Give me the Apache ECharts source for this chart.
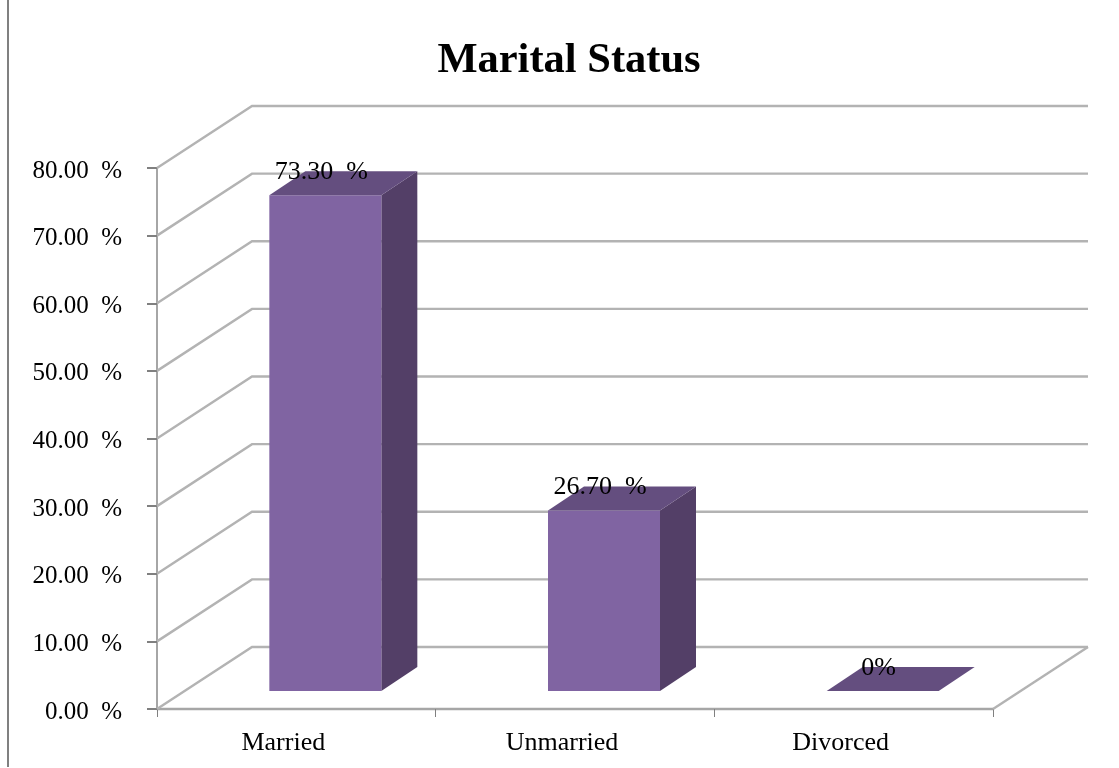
<!DOCTYPE html>
<html>
<head>
<meta charset="utf-8">
<style>html,body{margin:0;padding:0;background:#fff}#c{width:1119px;height:768px}</style>
<script src="https://cdn.jsdelivr.net/npm/echarts@6/dist/echarts.min.js"></script>
</head>
<body>
<div id="c"></div>
<script>
var titleText = 'Marital Status';
var categories = ['Married', 'Unmarried', 'Divorced'];
var values = [73.3, 26.7, 0];
var valueLabels = ['73.30  %', '26.70  %', '0%'];
var yTicks = [0, 10, 20, 30, 40, 50, 60, 70, 80];

var FONT = '"Liberation Serif","Times New Roman",serif';
var GRID = '#b3b3b3', AXIS = '#a6a6a6';
var WALL_DX = 95, WALL_DY = -62;
var BAR_DX = 29, BAR_DY = -18, BAR_W = 112, DEPTH_DX = 36, DEPTH_DY = -24;

var chart = echarts.init(document.getElementById('c'), null, {renderer: 'canvas'});

function wallItem(params, api) {
  var p = api.coord([0, api.value(0)]);
  var cs = params.coordSys;
  var x0 = cs.x, x1 = cs.x + cs.width, y = p[1];
  var children = [{
    type: 'polyline',
    shape: {points: [[x0, y], [x0 + WALL_DX, y + WALL_DY], [x1 + WALL_DX, y + WALL_DY]]},
    style: {stroke: GRID, lineWidth: 2.4, fill: null}
  }];
  if (api.value(0) === 0) {
    children.push({
      type: 'line',
      shape: {x1: x1, y1: y, x2: x1 + WALL_DX, y2: y + WALL_DY},
      style: {stroke: GRID, lineWidth: 2.4}
    });
  }
  return {type: 'group', children: children};
}

function barItem(params, api) {
  var base = api.coord([api.value(0), 0]);
  var top = api.coord([api.value(0), api.value(1)]);
  var l = base[0] - BAR_W / 2 + BAR_DX, r = l + BAR_W;
  var by = base[1] + BAR_DY, ty = top[1] + BAR_DY;
  var children = [];
  if (by - ty > 0) {
    children.push({
      type: 'polygon',
      shape: {points: [[r, ty], [r + DEPTH_DX, ty + DEPTH_DY], [r + DEPTH_DX, by + DEPTH_DY], [r, by]]},
      style: {fill: '#533f67'}
    });
    children.push({
      type: 'rect',
      shape: {x: l, y: ty, width: BAR_W, height: by - ty},
      style: {fill: '#8064a2'}
    });
  }
  children.push({
    type: 'polygon',
    shape: {points: [[l, ty], [l + DEPTH_DX, ty + DEPTH_DY], [r + DEPTH_DX, ty + DEPTH_DY], [r, ty]]},
    style: {fill: '#644e7f'}
  });
  children.push({
    type: 'text',
    style: {
      x: (l + r) / 2 - 4, y: ty + DEPTH_DY + 1,
      text: valueLabels[params.dataIndex],
      font: '26px ' + FONT, fill: '#000',
      align: 'center', verticalAlign: 'middle'
    }
  });
  return {type: 'group', children: children};
}

chart.setOption({
  animation: false,
  backgroundColor: '#fff',
  title: {
    text: titleText, left: 564, top: 35, textAlign: 'center',
    textStyle: {fontFamily: FONT, fontSize: 42.5, fontWeight: 'bold', color: '#000'}
  },
  grid: {left: 157, right: 126, top: 168, bottom: 59, containLabel: false},
  xAxis: {
    type: 'category', data: categories, boundaryGap: true,
    axisLine: {show: true, lineStyle: {color: AXIS, width: 2.4}},
    axisTick: {show: true, length: 8, alignWithLabel: false, lineStyle: {color: '#808080', width: 1}},
    axisLabel: {fontFamily: FONT, fontSize: 26, color: '#000', margin: 21, interval: 0, padding: [0, 26, 0, 0]},
    splitLine: {show: false}
  },
  yAxis: {
    type: 'value', min: 0, max: 80, interval: 10,
    axisLine: {show: true, lineStyle: {color: AXIS, width: 2}},
    axisTick: {show: true, length: 10, lineStyle: {color: '#808080', width: 2}},
    axisLabel: {
      fontFamily: FONT, fontSize: 25, color: '#000', margin: 35,
      verticalAlign: 'top', lineHeight: 6,
      formatter: function (v) { return v.toFixed(2) + '  %'; }
    },
    splitLine: {show: false}
  },
  graphic: [{
    type: 'line', z: 10,
    shape: {x1: 8, y1: 0, x2: 8, y2: 767},
    style: {stroke: '#808080', lineWidth: 2}
  }],
  series: [{
    type: 'custom', name: 'walls', silent: true, clip: false, z: 1,
    coordinateSystem: 'cartesian2d',
    encode: {y: 0},
    data: yTicks.map(function (v) { return [v]; }),
    renderItem: wallItem
  }, {
    type: 'custom', name: 'Marital Status', silent: true, clip: false, z: 3,
    coordinateSystem: 'cartesian2d',
    encode: {x: 0, y: 1},
    data: values.map(function (v, i) { return [i, v]; }),
    renderItem: barItem
  }]
});
</script>
</body>
</html>
